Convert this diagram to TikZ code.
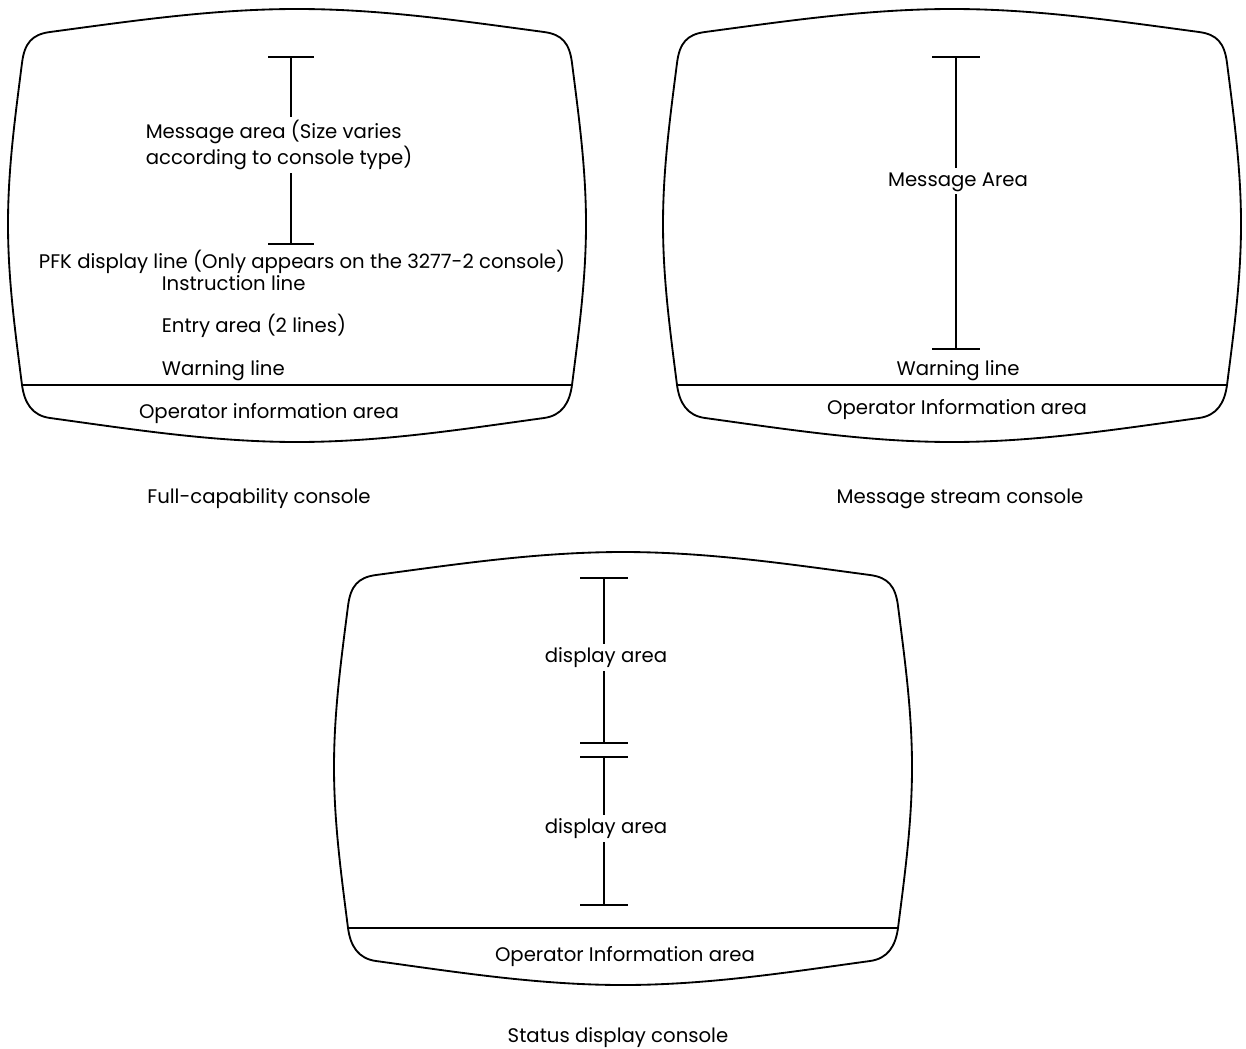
\documentclass[tikz,border=0pt]{standalone}
\usepackage{fontspec}
\setmainfont{Poppins}
\usetikzlibrary{positioning}

\begin{document}
\begin{tikzpicture}[x=0.02cm, y=-0.02cm,
  every node/.style={font=\fontsize{11.2}{14.5}\selectfont, inner sep=2pt},
  lbl/.style={text height=1.6ex, text depth=.4ex},
  bar/.style={line width=0.6pt},
  crt/.pic={
    % screen outline, 578 x 433
    \draw[line width=1.05pt] (42,23) .. controls (122,12.3) and (204,0) .. (289,0)
      .. controls (374,0) and (456,12.3) .. (536,23)
      .. controls (554,25.4) and (561.5,34) .. (564,54)
      .. controls (571,109) and (578,160) .. (578,215)
      .. controls (578,270) and (571,321) .. (564,376)
      .. controls (561.5,394) and (554,406.5) .. (536,409)
      .. controls (456,420) and (374,433) .. (289,433)
      .. controls (204,433) and (122,420) .. (42,409)
      .. controls (24,406.5) and (16.5,394) .. (14,376)
      .. controls (7,321) and (0,270) .. (0,215)
      .. controls (0,160) and (7,109) .. (14,54)
      .. controls (16.5,34) and (24,25.4) .. (42,23) -- cycle;
    % operator information divider
    \draw[line width=0.9pt] (14,376) -- (564,376);
  }]
\useasboundingbox (0,0) rectangle (1246,1048);

% Full-capability console
\pic at (8,9) {crt};
\coordinate (s1top) at (291,57);
\coordinate (s1bot) at (291,244);
\node[align=left] (s1msg) at (279,145) {Message area (Size varies\\according to console type)};
\draw[bar] (s1top) ++(-23,0) -- ++(46,0);
\draw[bar] (s1bot) ++(-23,0) -- ++(46,0);
\draw[bar] (s1top) -- (s1top |- s1msg.north);
\draw[bar] (s1bot) -- (s1bot |- s1msg.south);
\node[lbl] (s1pfk) at (302,263) {PFK display line (Only appears on the 3277-2 console)};
\node[lbl, anchor=west] (s1ins) at (158,285) {Instruction line};
\node[lbl, anchor=west] (s1ent) at (158,327) {Entry area (2 lines)};
\node[lbl, anchor=west] (s1warn) at (158,370) {Warning line};
\node[lbl] (s1op) at (269,413) {Operator information area};
\node[lbl] (s1cap) at (259,498) {Full-capability console};

% Message stream console
\pic at (663,9) {crt};
\coordinate (s2top) at (956,57);
\coordinate (s2bot) at (956,349);
\node[lbl] (s2msg) at (958,181) {Message Area};
\draw[bar] (s2top) ++(-24,0) -- ++(48,0);
\draw[bar] (s2bot) ++(-24,0) -- ++(48,0);
\draw[bar] (s2top) -- (s2top |- s2msg.north);
\draw[bar] (s2bot) -- (s2bot |- s2msg.south);
\node[lbl] (s2warn) at (958,370) {Warning line};
\node[lbl] (s2op) at (957,409) {Operator Information area};
\node[lbl] (s2cap) at (960,498) {Message stream console};

% Status display console
\pic at (334,552) {crt};
\coordinate (s3top) at (604,578);
\coordinate (s3mida) at (604,743);
\coordinate (s3midb) at (604,757);
\coordinate (s3bot) at (604,905);
\node[lbl] (s3da) at (606,657) {display area};
\node[lbl] (s3db) at (606,828) {display area};
\foreach \c in {s3top,s3mida,s3midb,s3bot}
  \draw[bar] (\c) ++(-24,0) -- ++(48,0);
\draw[bar] (s3top) -- (s3top |- s3da.north);
\draw[bar] (s3mida) -- (s3mida |- s3da.south);
\draw[bar] (s3midb) -- (s3midb |- s3db.north);
\draw[bar] (s3bot) -- (s3bot |- s3db.south);
\node[lbl] (s3op) at (625,956) {Operator Information area};
\node[lbl] (s3cap) at (618,1037) {Status display console};
\end{tikzpicture}
\end{document}
